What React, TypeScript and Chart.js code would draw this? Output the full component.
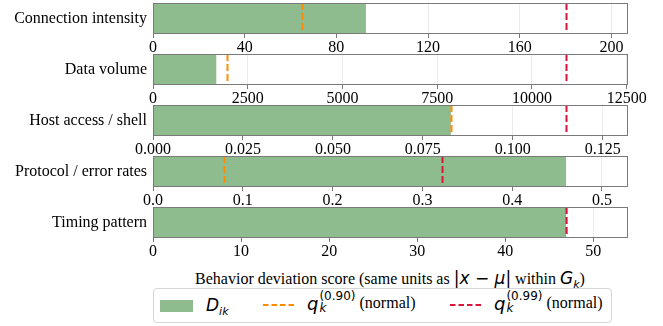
import React, { useEffect, useRef } from "react";
import { Chart, registerables } from "chart.js";

Chart.register(...registerables);

// ---- data ----
const features = [
  "Connection intensity",
  "Data volume",
  "Host access / shell",
  "Protocol / error rates",
  "Timing pattern",
];
const scores = [92.9, 1670, 0.0828, 0.46, 46.9];
const q90 = [64.8, 1940, 0.0828, 0.079, 46.85];
const q99 = [180.2, 10900, 0.1148, 0.3216, 46.9];
const tickValues = [
  [0, 40, 80, 120, 160, 200],
  [0, 2500, 5000, 7500, 10000, 12500],
  [0, 0.025, 0.05, 0.075, 0.1, 0.125],
  [0, 0.1, 0.2, 0.3, 0.4, 0.5],
  [0, 10, 20, 30, 40, 50],
];
const tickDecimals = [0, 0, 3, 1, 0];

const SERIF = "'Liberation Serif', 'Times New Roman', serif";
const MATH = "'DejaVu Sans', sans-serif";
const BAR = "#8fbc8f";
const ORANGE = "#ff8c00";
const RED = "#dc143c";
const SPINE = "#7a7a7a";

const PANEL_TOPS = [3, 54, 105, 156, 207];
const PANEL_H = 31;
const TICK_AREA = 20;
const PAD_TOP = 2;

function Panel({ idx }: { idx: number }) {
  const ref = useRef<HTMLCanvasElement | null>(null);
  useEffect(() => {
    if (!ref.current) return;
    const maxV = Math.max(scores[idx], q90[idx], q99[idx]) * 1.15;
    const overlay = {
      id: "overlay" + idx,
      afterDatasetsDraw(chart: any) {
        const { ctx, chartArea } = chart;
        const xs = chart.scales.x;
        const drawV = (v: number, color: string) => {
          const px = Math.round(xs.getPixelForValue(v)) + 0.5;
          ctx.save();
          ctx.strokeStyle = color;
          ctx.lineWidth = 2;
          ctx.setLineDash([7, 3]);
          ctx.beginPath();
          ctx.moveTo(px, chartArea.top);
          ctx.lineTo(px, chartArea.bottom);
          ctx.stroke();
          ctx.restore();
        };
        drawV(q90[idx], ORANGE);
        drawV(q99[idx], RED);
      },
      afterDraw(chart: any) {
        const { ctx, chartArea } = chart;
        ctx.save();
        ctx.strokeStyle = SPINE;
        ctx.lineWidth = 1;
        ctx.strokeRect(
          Math.round(chartArea.left) + 0.5,
          Math.round(chartArea.top) + 0.5,
          Math.round(chartArea.right - chartArea.left) - 1,
          Math.round(chartArea.bottom - chartArea.top) - 1
        );
        ctx.restore();
      },
    };
    const chart = new Chart(ref.current, {
      type: "bar",
      data: {
        labels: [features[idx]],
        datasets: [
          {
            data: [scores[idx]],
            backgroundColor: BAR,
            borderWidth: 0,
            barPercentage: 0.94,
            categoryPercentage: 1,
          },
        ],
      },
      options: {
        indexAxis: "y",
        animation: false,
        responsive: false,
        maintainAspectRatio: false,
        layout: { padding: { top: PAD_TOP, right: 35, bottom: 0, left: 0 } },
        plugins: { legend: { display: false }, tooltip: { enabled: false } },
        scales: {
          x: {
            type: "linear",
            min: 0,
            max: maxV,
            afterBuildTicks: (s: any) => {
              s.ticks = tickValues[idx].map((v) => ({ value: v }));
            },
            ticks: {
              autoSkip: false,
              maxRotation: 0,
              color: "#000",
              padding: 0,
              font: { family: SERIF, size: 16 },
              callback: (v: any) => Number(v).toFixed(tickDecimals[idx]),
            },
            grid: {
              color: "#ebebeb",
              tickColor: SPINE,
              tickLength: 4,
              drawTicks: true,
            },
            border: { display: false },
            afterFit: (s: any) => {
              s.height = TICK_AREA;
              s.paddingLeft = 0;
              s.paddingRight = 0;
            },
          },
          y: {
            ticks: {
              color: "#000",
              padding: 6,
              font: { family: SERIF, size: 16 },
            },
            grid: { display: false, drawTicks: false },
            border: { display: false },
            afterFit: (s: any) => {
              s.width = 153;
              s.paddingTop = 0;
              s.paddingBottom = 0;
            },
          },
        },
      },
      plugins: [overlay],
    } as any);
    return () => chart.destroy();
  }, [idx]);
  return (
    <canvas
      ref={ref}
      width={663}
      height={PAD_TOP + PANEL_H + TICK_AREA}
      style={{
        position: "absolute",
        left: 0,
        top: PANEL_TOPS[idx] - PAD_TOP,
        width: 663,
        height: PAD_TOP + PANEL_H + TICK_AREA,
      }}
    />
  );
}

function QLabel({ sup }: { sup: string }) {
  return (
    <span style={{ display: "inline-flex", alignItems: "center", whiteSpace: "nowrap" }}>
      <span style={{ fontFamily: MATH, fontStyle: "italic", fontSize: 18 }}>q</span>
      <span
        style={{
          display: "inline-flex",
          flexDirection: "column",
          fontFamily: MATH,
          fontSize: 12,
          lineHeight: "12px",
          marginLeft: 1,
          marginTop: -2,
        }}
      >
        <span>{sup}</span>
        <span style={{ fontStyle: "italic" }}>k</span>
      </span>
      <span style={{ fontFamily: SERIF, fontSize: 16, marginLeft: 4 }}>(normal)</span>
    </span>
  );
}

function Dash({ color }: { color: string }) {
  return (
    <svg width={33} height={6} style={{ position: "absolute" }}>
      <line x1={0} y1={3} x2={33} y2={3} stroke={color} strokeWidth={2} strokeDasharray="5.5 3" />
    </svg>
  );
}

export default function App() {
  return (
    <div
      style={{
        position: "fixed",
        left: 0,
        top: 0,
        width: 663,
        height: 326,
        background: "#fff",
        overflow: "hidden",
      }}
    >
      {features.map((_, i) => (
        <Panel key={i} idx={i} />
      ))}
      <div
        style={{
          position: "absolute",
          left: 153,
          top: 268,
          width: 474,
          textAlign: "center",
          fontFamily: SERIF,
          fontSize: 16,
          lineHeight: "20px",
          whiteSpace: "nowrap",
          color: "#000",
        }}
      >
        Behavior deviation score (same units as{" "}
        <span style={{ fontFamily: MATH, fontSize: 17 }}>
          |<i>x</i> − <i>μ</i>|
        </span>{" "}
        within{" "}
        <span style={{ fontFamily: MATH, fontSize: 17 }}>
          <i>G</i>
          <sub style={{ fontSize: 11 }}>
            <i>k</i>
          </sub>
        </span>
        )
      </div>
      <div
        style={{
          position: "absolute",
          left: 153,
          top: 288,
          width: 459,
          height: 35,
          boxSizing: "border-box",
          border: "1px solid #d6d6d6",
          borderRadius: 4,
          background: "#fff",
        }}
      >
        <div
          style={{
            position: "absolute",
            left: 6,
            top: 11,
            width: 33,
            height: 12,
            background: BAR,
          }}
        />
        <div
          style={{
            position: "absolute",
            left: 52,
            top: 5,
            fontFamily: MATH,
            fontStyle: "italic",
            fontSize: 17,
            lineHeight: "22px",
          }}
        >
          D
          <sub style={{ fontSize: 11 }}>ik</sub>
        </div>
        <div style={{ position: "absolute", left: 109, top: 13 }}>
          <Dash color={ORANGE} />
        </div>
        <div style={{ position: "absolute", left: 153, top: 3 }}>
          <QLabel sup="(0.90)" />
        </div>
        <div style={{ position: "absolute", left: 296, top: 13 }}>
          <Dash color={RED} />
        </div>
        <div style={{ position: "absolute", left: 340, top: 3 }}>
          <QLabel sup="(0.99)" />
        </div>
      </div>
    </div>
  );
}
